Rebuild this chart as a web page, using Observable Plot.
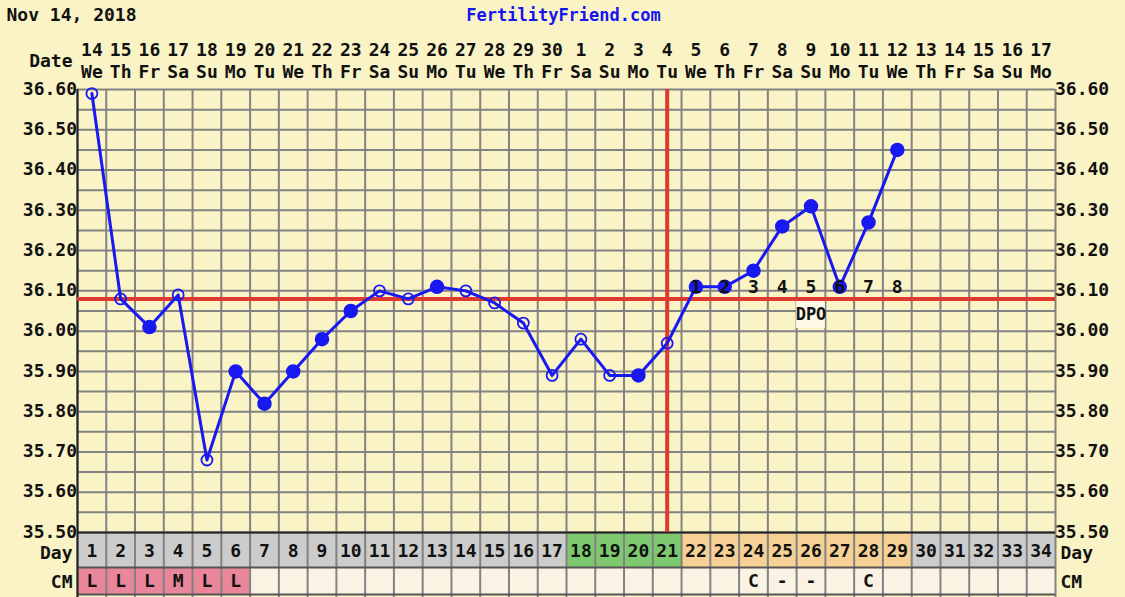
<!DOCTYPE html>
<html>
<head>
<meta charset="utf-8">
<script src="https://cdn.jsdelivr.net/npm/d3@7"></script>
<script src="https://cdn.jsdelivr.net/npm/@observablehq/plot@0.6"></script>
<style>
  html, body { margin: 0; padding: 0; background: #faf3c6; }
</style>
</head>
<body>
<div id="chart"></div>
<script>
// ---- data ----
const titleDate = "Nov 14, 2018";
const siteName = "FertilityFriend.com";
const dateNums = ["14","15","16","17","18","19","20","21","22","23","24","25","26","27","28","29","30",
                  "1","2","3","4","5","6","7","8","9","10","11","12","13","14","15","16","17"];
const weekdays = ["We","Th","Fr","Sa","Su","Mo","Tu","We","Th","Fr","Sa","Su","Mo","Tu","We","Th","Fr",
                  "Sa","Su","Mo","Tu","We","Th","Fr","Sa","Su","Mo","Tu","We","Th","Fr","Sa","Su","Mo"];
const cycleDays = d3.range(1, 35);
const temps = [36.59, 36.08, 36.01, 36.09, 35.68, 35.90, 35.82, 35.90, 35.98, 36.05,
               36.10, 36.08, 36.11, 36.10, 36.07, 36.02, 35.89, 35.98, 35.89, 35.89,
               35.97, 36.11, 36.11, 36.15, 36.26, 36.31, 36.11, 36.27, 36.45];
// "open" = open circle, "filled" = solid dot
const markerType = ["open","open","filled","open","open","filled","filled","filled","filled","filled",
                    "open","open","filled","open","open","open","open","open","open","filled",
                    "open","filled","filled","filled","filled","filled","filled","filled","filled"];
// phase for Day row colouring
const phase = [..."nnnnnnnnnnnnnnnnn", "f","f","f","f", "l","l","l","l","l","l","l","l", "n","n","n","n","n"];
const cm = ["L","L","L","M","L","L","","","","","","","","","","","","","","","","","",
            "C","-","-","","C","","","","","",""];
const coverline = 36.08;
const ovulationDay = 21;
const dpoDays = [22,23,24,25,26,27,28,29];
const dpoLabels = ["1","2","3","4","5","6","7","8"];
const yTicks = [35.5,35.6,35.7,35.8,35.9,36.0,36.1,36.2,36.3,36.4,36.5,36.6];
const yGrid = d3.range(0, 23).map(i => +(35.5 + i * 0.05).toFixed(2));

// ---- layout ----
const W = 1125, H = 597;
const mTop = 89, mLeft = 77, mRight = 70, mBottom = 65;
const yMin = 35.5, yMax = 36.6;
const plotH = H - mTop - mBottom;
const plotW = W - mLeft - mRight;
// pixel -> data helpers for placing labels in the margins
const py = p => yMin + (H - mBottom - p) * (yMax - yMin) / plotH;
const px = p => 0.5 + (p - mLeft) * 34 / plotW;

const phaseColor = {n: "#cccccc", f: "#7ec86f", l: "#f6d095"};
const grid = "#828282";
const blue = "#1818f0";
const red = "#e03a30";
const font = "DejaVu Sans Mono";

const pts = temps.map((t, i) => ({day: i + 1, t, type: markerType[i]}));
const dayRows = cycleDays.map(d => ({day: d, phase: phase[d - 1], cm: cm[d - 1]}));

const fmt = d => d.toFixed(2);
const tickDy = d => d === yMin ? -2 : 0;

const plot = Plot.plot({
  width: W, height: H,
  marginTop: mTop, marginLeft: mLeft, marginRight: mRight, marginBottom: mBottom,
  style: {background: "#faf3c6", fontFamily: font, fontWeight: "bold", fontSize: "18px", color: "#111"},
  x: {domain: [0.5, 34.5], axis: null},
  y: {domain: [yMin, yMax], axis: null},
  color: {type: "identity"},
  marks: [
    // day row
    Plot.rect(dayRows, {x1: d => d.day - 0.5, x2: d => d.day + 0.5, y1: py(567), y2: yMin,
      fill: d => phaseColor[d.phase]}),
    // CM row
    Plot.rect(dayRows, {x1: d => d.day - 0.5, x2: d => d.day + 0.5, y1: py(594), y2: py(567),
      fill: d => d.cm && "LMH".includes(d.cm) ? "#ea8699" : "#faf3e3"}),
    // grid
    Plot.ruleY(yGrid, {x1: 0.5, x2: 34.5, stroke: grid, strokeWidth: 2}),
    Plot.ruleX(d3.range(0, 35).map(i => i + 0.5), {y1: py(H), y2: yMax, stroke: grid, strokeWidth: 2}),
    Plot.ruleY([py(567), py(594)], {x1: 0.5, x2: 34.5, stroke: "#555", strokeWidth: 2}),
    Plot.ruleY([yMin], {x1: 0.5, x2: 34.5, stroke: "#222", strokeWidth: 2}),
    Plot.ruleX([0.5], {y1: py(H), y2: yMax, stroke: "#222", strokeWidth: 2}),
    // DPO box
    Plot.rect([26], {x1: d => d - 0.5, x2: d => d + 0.5, y1: py(328), y2: py(300), fill: "#fdf9e6"}),
    // coverline and ovulation line
    Plot.ruleY([coverline], {x1: 0.5, x2: 34.5, stroke: red, strokeWidth: 4}),
    Plot.ruleX([ovulationDay], {y1: yMin, y2: yMax, stroke: red, strokeWidth: 4}),
    // temperature line
    Plot.line(pts, {x: "day", y: "t", stroke: blue, strokeWidth: 3}),
    Plot.dot(pts.filter(d => d.type === "open"), {x: "day", y: "t", r: 5.5, stroke: blue, strokeWidth: 1.8, fill: "none"}),
    Plot.dot(pts.filter(d => d.type === "filled"), {x: "day", y: "t", r: 6.5, fill: blue, stroke: blue}),
    // DPO labels
    Plot.text(dpoDays, {x: d => d, y: py(287), text: (d, i) => dpoLabels[i], fill: "#111"}),
    Plot.text(["DPO"], {x: 26, y: py(314), text: d => d, fill: "#111", fontSize: 17}),
    // y tick labels
    Plot.text(yTicks, {x: 0.5, y: d => d, text: fmt, textAnchor: "end", dx: -5, dy: tickDy, fill: "#111"}),
    Plot.text(yTicks, {x: 34.5, y: d => d, text: fmt, textAnchor: "start", dx: 5, dy: tickDy, fill: "#111"}),
    // top date labels
    Plot.text(cycleDays, {x: d => d, y: py(50), text: d => dateNums[d - 1], fill: "#111"}),
    Plot.text(cycleDays, {x: d => d, y: py(72), text: d => weekdays[d - 1], fill: "#111"}),
    Plot.text(["Date"], {x: 0.5, y: py(61), text: d => d, textAnchor: "end", dx: -5, fill: "#111"}),
    // day row labels
    Plot.text(dayRows, {x: "day", y: py(551), text: d => String(d.day), fill: "#111"}),
    Plot.text(["Day"], {x: 0.5, y: py(553), text: d => d, textAnchor: "end", dx: -5, fill: "#111"}),
    Plot.text(["Day"], {x: 34.5, y: py(553), text: d => d, textAnchor: "start", dx: 5, fill: "#111"}),
    // CM row labels
    Plot.text(dayRows.filter(d => d.cm), {x: "day", y: py(581), text: "cm", fill: "#111"}),
    Plot.text(["CM"], {x: 0.5, y: py(582), text: d => d, textAnchor: "end", dx: -5, fill: "#111"}),
    Plot.text(["CM"], {x: 34.5, y: py(582), text: d => d, textAnchor: "start", dx: 5, fill: "#111"}),
    // titles
    Plot.text([titleDate], {x: px(6), y: py(15), text: d => d, textAnchor: "start", fill: "#111"}),
    Plot.text([siteName], {x: px(563), y: py(15), text: d => d, fill: "#1515f0", fontSize: 17})
  ]
});
document.getElementById("chart").appendChild(plot);
</script>
</body>
</html>
